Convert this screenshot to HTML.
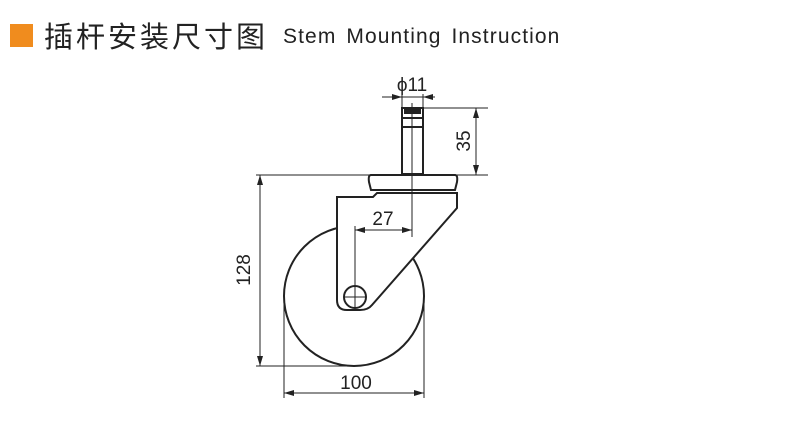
<!DOCTYPE html>
<html><head><meta charset="utf-8"><style>
html,body{margin:0;padding:0;background:#fff;width:789px;height:425px;overflow:hidden}
.sq{position:absolute;left:10px;top:24px;width:23px;height:23px;background:#f08c1e}
.cn{position:absolute;left:44px;top:17px;font:29px "Noto Sans CJK SC","WenQuanYi Zen Hei",sans-serif;color:#222;letter-spacing:3px;line-height:36px}
.en{position:absolute;left:283px;top:24px;font:21px "Liberation Sans",sans-serif;color:#222;letter-spacing:1.1px;word-spacing:3px;line-height:26px}
svg{position:absolute;left:0;top:0}
</style></head><body>
<div class="sq"></div>
<div class="cn">插杆安装尺寸图</div>
<div class="en">Stem Mounting Instruction</div>
<svg width="789" height="425" viewBox="0 0 789 425">
<defs><marker id="a" viewBox="0 0 10 6" refX="10" refY="3" markerWidth="10" markerHeight="6" orient="auto-start-reverse" markerUnits="userSpaceOnUse"><path d="M0,0L10,3L0,6z" fill="#222"/></marker></defs>
<g stroke="#222" fill="none" stroke-width="1">
<circle cx="354" cy="296" r="70" stroke-width="2" fill="#fff"/>
<path d="M337,197 L373,197 L377,193 L457,193 L457,208 L372,305 Q368,310 360,310 L347,310 Q337,310 337,300 Z" fill="#fff" stroke-width="2"/>
<path d="M371,175 L455,175 Q458,175 457,182 L455,190 L371,190 L369,182 Q368,175 371,175 Z" fill="#fff" stroke-width="2"/>
<rect x="402" y="108" width="21" height="66" fill="#fff" stroke-width="2"/>
<line x1="402" y1="118" x2="423" y2="118" stroke-width="2"/>
<line x1="402" y1="127" x2="423" y2="127" stroke-width="2"/>
<rect x="404" y="109" width="17" height="5" fill="#222" stroke="none"/>
<circle cx="355" cy="297" r="11" stroke-width="2" fill="#fff"/>
<line x1="344" y1="297" x2="366" y2="297"/>
<line x1="355" y1="286" x2="355" y2="308"/>
<line x1="412" y1="103" x2="412" y2="237"/>
<line x1="355" y1="226" x2="355" y2="297"/>
<line x1="402" y1="94" x2="402" y2="108"/><line x1="423" y1="94" x2="423" y2="108"/>
<line x1="382" y1="97" x2="402" y2="97" marker-end="url(#a)"/>
<line x1="435" y1="97" x2="423" y2="97" marker-end="url(#a)"/>
<line x1="402" y1="97" x2="423" y2="97"/>
<line x1="423" y1="108" x2="488" y2="108"/>
<line x1="457" y1="175" x2="488" y2="175"/>
<line x1="476" y1="108" x2="476" y2="175" marker-start="url(#a)" marker-end="url(#a)"/>
<line x1="256" y1="175" x2="371" y2="175"/>
<line x1="256" y1="366" x2="354" y2="366"/>
<line x1="260" y1="175" x2="260" y2="366" marker-start="url(#a)" marker-end="url(#a)"/>
<line x1="284" y1="296" x2="284" y2="398"/>
<line x1="424" y1="296" x2="424" y2="398"/>
<line x1="284" y1="393" x2="424" y2="393" marker-start="url(#a)" marker-end="url(#a)"/>
<line x1="355" y1="230" x2="412" y2="230" marker-start="url(#a)" marker-end="url(#a)"/>
</g>
<g font-family="Liberation Sans,sans-serif" font-size="19" fill="#222" text-anchor="middle">
<text x="412" y="91">ϕ11</text>
<text x="383" y="225">27</text>
<text x="356" y="389">100</text>
<text transform="translate(470,141) rotate(-90)">35</text>
<text transform="translate(250,270) rotate(-90)">128</text>
</g>
</svg>
</body></html>
